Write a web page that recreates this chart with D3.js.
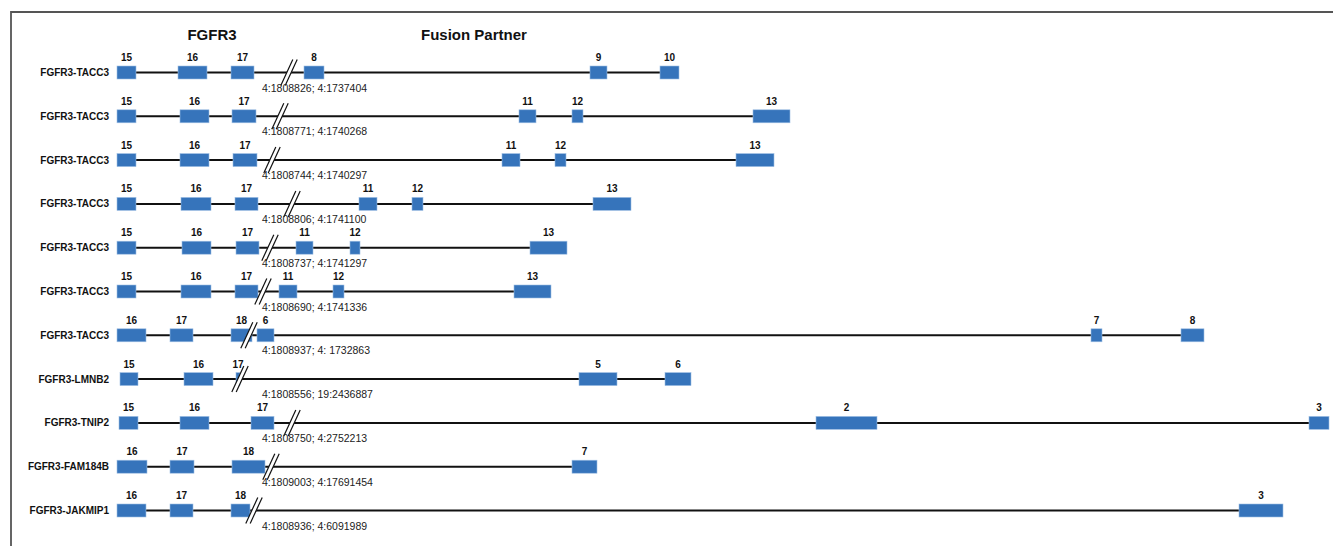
<!DOCTYPE html>
<html>
<head>
<meta charset="utf-8">
<script src="https://cdn.jsdelivr.net/npm/d3@7"></script>
<style>
  body { margin: 0; background: #fff; }
  text { font-family: "Liberation Sans", Arial, sans-serif; }
</style>
</head>
<body>
<svg id="chart" width="1333" height="546"></svg>
<script>
// one entry per fusion transcript (top to bottom)
const fusions = ["FGFR3-TACC3", "FGFR3-TACC3", "FGFR3-TACC3", "FGFR3-TACC3", "FGFR3-TACC3",
  "FGFR3-TACC3", "FGFR3-TACC3", "FGFR3-LMNB2", "FGFR3-TNIP2", "FGFR3-FAM184B", "FGFR3-JAKMIP1"];

const junctions = ["4:1808826; 4:1737404", "4:1808771; 4:1740268", "4:1808744; 4:1740297",
  "4:1808806; 4:1741100", "4:1808737; 4:1741297", "4:1808690; 4:1741336", "4:1808937; 4: 1732863",
  "4:1808556; 19:2436887", "4:1808750; 4:2752213", "4:1809003; 4:17691454", "4:1808936; 4:6091989"];

const exonNumbers = [
  [15, 16, 17, 8, 9, 10],
  [15, 16, 17, 11, 12, 13],
  [15, 16, 17, 11, 12, 13],
  [15, 16, 17, 11, 12, 13],
  [15, 16, 17, 11, 12, 13],
  [15, 16, 17, 11, 12, 13],
  [16, 17, 18, 6, 7, 8],
  [15, 16, 17, 5, 6],
  [15, 16, 17, 2, 3],
  [16, 17, 18, 7],
  [16, 17, 18, 3]
];

// exon start / end along the drawing axis (relative units)
const exonStarts = [
  [0, 61, 114, 187, 473, 543],
  [0, 63, 115, 402, 455, 636],
  [0, 63, 116, 385, 438, 619],
  [0, 64, 118, 242, 295, 476],
  [0, 65, 119, 179, 233, 413],
  [0, 64, 118, 162, 216, 397],
  [0, 53, 114, 140, 974, 1064],
  [3, 67, 119, 462, 548],
  [2, 63, 134, 699, 1192],
  [0, 53, 115, 455],
  [0, 53, 114, 1122]
];
const exonEnds = [
  [19, 90, 137, 207, 490, 562],
  [19, 92, 139, 419, 466, 673],
  [19, 92, 140, 403, 449, 657],
  [19, 94, 141, 260, 306, 514],
  [19, 94, 142, 196, 243, 450],
  [19, 94, 141, 180, 227, 434],
  [29, 76, 135, 157, 985, 1087],
  [21, 96, 123, 500, 574],
  [21, 92, 157, 760, 1212],
  [30, 77, 148, 480],
  [29, 76, 133, 1166]
];

// where the FGFR3 / partner break marker sits
const breakPoints = [172, 163, 155, 175, 153, 146, 132, 123, 175, 154, 137];

const headers = ["FGFR3", "Fusion Partner"];

const width = 1333, height = 546;
const svg = d3.select("#chart");

const x = d3.scaleLinear().domain([0, 1216]).range([117, 1333]);
const y = d3.scalePoint().domain(d3.range(fusions.length)).range([72.5, 510.5]);
const exonH = 13;

// frame
svg.append("path")
  .attr("d", `M11,${height}V12H${width}`)
  .attr("fill", "none")
  .attr("stroke", "#555")
  .attr("stroke-width", 1.8);

svg.append("text").attr("x", 212).attr("y", 40).attr("text-anchor", "middle")
  .attr("font-size", 15).attr("font-weight", "bold").attr("fill", "#111").text(headers[0]);
svg.append("text").attr("x", 421).attr("y", 40)
  .attr("font-size", 15).attr("font-weight", "bold").attr("fill", "#111").text(headers[1]);

fusions.forEach((name, i) => {
  const cy = y(i);
  const g = svg.append("g");
  const exons = exonStarts[i].map((s, j) => ({ s: s, e: exonEnds[i][j], n: exonNumbers[i][j] }));

  g.append("text")
    .attr("x", 109).attr("y", cy)
    .attr("dy", "0.35em")
    .attr("text-anchor", "end")
    .attr("font-size", 10).attr("font-weight", "bold").attr("fill", "#111")
    .text(name);

  // intron backbone
  g.append("line")
    .attr("x1", x(d3.min(exonStarts[i]))).attr("x2", x(d3.max(exonEnds[i])))
    .attr("y1", cy).attr("y2", cy)
    .attr("stroke", "#111").attr("stroke-width", 2);

  g.selectAll("rect").data(exons).join("rect")
    .attr("x", d => x(d.s))
    .attr("y", cy - exonH / 2)
    .attr("width", d => x(d.e) - x(d.s))
    .attr("height", exonH)
    .attr("fill", "#3674bb")
    .attr("stroke", "#9fbfe4")
    .attr("stroke-width", 0.6);

  g.selectAll("text.num").data(exons).join("text")
    .attr("class", "num")
    .attr("x", d => (x(d.s) + x(d.e)) / 2)
    .attr("y", cy - exonH / 2 - 5)
    .attr("text-anchor", "middle")
    .attr("font-size", 10).attr("font-weight", "bold").attr("fill", "#111")
    .text(d => d.n);

  // break marker //
  const bx = x(breakPoints[i]);
  const dx = 6, dy = 13, gap = 2.2;
  g.append("path")
    .attr("d", `M${bx - dx - gap},${cy + dy}L${bx + dx - gap},${cy - dy}L${bx + dx + gap},${cy - dy}L${bx - dx + gap},${cy + dy}Z`)
    .attr("fill", "#fff");
  [-gap, gap].forEach(o => {
    g.append("line")
      .attr("x1", bx - dx + o).attr("y1", cy + dy)
      .attr("x2", bx + dx + o).attr("y2", cy - dy)
      .attr("stroke", "#111").attr("stroke-width", 1.2);
  });

  g.append("text")
    .attr("x", 262).attr("y", cy + 19)
    .attr("font-size", 10.5).attr("fill", "#222")
    .text(junctions[i]);
});
</script>
</body>
</html>
